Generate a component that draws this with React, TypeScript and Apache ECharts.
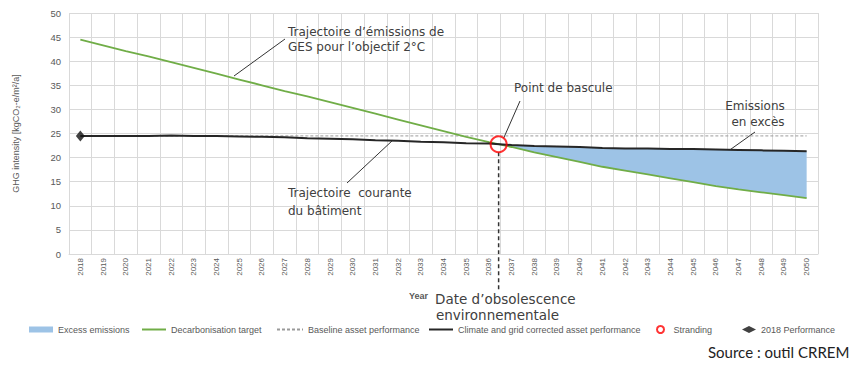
import { useEffect, useRef } from 'react';
import * as echarts from 'echarts';

const years = ['2018', '2019', '2020', '2021', '2022', '2023', '2024', '2025', '2026', '2027', '2028', '2029', '2030', '2031', '2032', '2033', '2034', '2035', '2036', '2037', '2038', '2039', '2040', '2041', '2042', '2043', '2044', '2045', '2046', '2047', '2048', '2049', '2050'];

const decarbonisationTarget = [44.5, 43.3, 42.1, 41.0, 39.8, 38.6, 37.4, 36.2, 35.0, 33.8, 32.7, 31.5, 30.3, 29.1, 27.9, 26.7, 25.5, 24.3, 23.2, 22.2, 21.1, 20.1, 19.1, 18.1, 17.3, 16.5, 15.7, 14.9, 14.1, 13.4, 12.8, 12.2, 11.6];

const correctedPerformance = [24.5, 24.5, 24.5, 24.5, 24.6, 24.5, 24.5, 24.4, 24.3, 24.2, 24.0, 23.9, 23.8, 23.6, 23.5, 23.3, 23.2, 23.0, 22.9, 22.6, 22.4, 22.3, 22.2, 22.0, 21.9, 21.9, 21.8, 21.8, 21.7, 21.6, 21.5, 21.4, 21.3];

const baselinePerformance = [24.5, 24.5, 24.5, 24.5, 24.5, 24.5, 24.5, 24.5, 24.5, 24.5, 24.5, 24.5, 24.5, 24.5, 24.5, 24.5, 24.5, 24.5, 24.5, 24.5, 24.5, 24.5, 24.5, 24.5, 24.5, 24.5, 24.5, 24.5, 24.5, 24.5, 24.5, 24.5, 24.5];

const performance2018 = [24.5];

const GREEN = '#70AD47';
const BLACK = '#262626';
const BLUE = '#9DC3E6';
const GREY_TXT = '#595959';
const ANN = '#404040';
const ANN_FONT = 'DejaVu Sans';

export default function App() {
  const ref = useRef<HTMLDivElement>(null);

  useEffect(() => {
    const chart = echarts.init(ref.current!, null, { renderer: 'svg' });

    // crossing point of target and corrected performance
    let k = 0;
    for (let i = 0; i < years.length - 1; i++) {
      if (decarbonisationTarget[i] >= correctedPerformance[i] && decarbonisationTarget[i + 1] < correctedPerformance[i + 1]) {
        k = i;
        break;
      }
    }
    const d0 = decarbonisationTarget[k] - correctedPerformance[k];
    const d1 = decarbonisationTarget[k + 1] - correctedPerformance[k + 1];
    const t = d0 / (d0 - d1);
    const xc = k + t + 0.5;
    const yc = decarbonisationTarget[k] + (decarbonisationTarget[k + 1] - decarbonisationTarget[k]) * t;

    const fillTop: number[][] = [[xc, yc]];
    const fillBottom: number[][] = [[xc, yc]];
    for (let i = k + 1; i < years.length; i++) {
      fillTop.push([i + 0.5, correctedPerformance[i]]);
      fillBottom.push([i + 0.5, decarbonisationTarget[i]]);
    }
    const pts = (arr: number[]) => arr.map((v, i) => [i + 0.5, v]);

    const legendText = { color: GREY_TXT, fontSize: 9, fontFamily: 'Liberation Sans' };
    const mkLegend = (name: string, left: number, w: number, h: number, extra: any = {}) => ({
      data: [{ name, ...extra }],
      left,
      top: 325,
      padding: 0,
      itemWidth: w,
      itemHeight: h,
      itemGap: 0,
      selectedMode: false,
      textStyle: legendText,
    });
    const noSym = { itemStyle: { opacity: 0 } };

    chart.setOption({
      animation: false,
      backgroundColor: '#ffffff',
      grid: { left: 69, top: 13, width: 749, height: 241, containLabel: false },
      legend: [
        mkLegend('Excess emissions', 29, 24, 6, { icon: 'rect', itemStyle: { color: BLUE } }),
        mkLegend('Decarbonisation target', 141, 24, 8, noSym),
        mkLegend('Baseline asset performance', 276, 26, 8, noSym),
        mkLegend('Climate and grid corrected asset performance', 428, 24, 8, noSym),
        mkLegend('Stranding', 656, 16, 7, { icon: 'circle', itemStyle: { color: '#ffffff', borderColor: '#FF0000', borderWidth: 2 } }),
        mkLegend('2018 Performance', 742, 14, 7, { icon: 'diamond', itemStyle: { color: '#111111' } }),
      ],
      xAxis: [
        {
          type: 'category',
          data: years,
          boundaryGap: true,
          axisLine: { show: true, lineStyle: { color: '#D9D9D9' } },
          axisTick: { show: false },
          axisLabel: { rotate: 90, fontSize: 8, color: GREY_TXT, margin: 4, fontFamily: 'Liberation Sans' },
          splitLine: { show: true, lineStyle: { color: '#D9D9D9', width: 1 } },
        },
        { type: 'value', min: 0, max: years.length, show: false },
      ],
      yAxis: {
        type: 'value',
        min: 0,
        max: 50,
        interval: 5,
        name: 'GHG intensity [kgCO₂-e/m²/a]',
        nameLocation: 'middle',
        nameRotate: 90,
        nameGap: 49,
        nameTextStyle: { color: GREY_TXT, fontSize: 9, fontFamily: 'Liberation Sans' },
        axisLine: { show: false },
        axisTick: { show: false },
        axisLabel: { fontSize: 9.5, color: GREY_TXT, margin: 8, fontFamily: 'Liberation Sans' },
        splitLine: { lineStyle: { color: '#D9D9D9', width: 1 } },
      },
      series: [
        {
          type: 'custom',
          name: 'Excess emissions',
          xAxisIndex: 1,
          data: [[xc, yc]],
          silent: true,
          z: 1,
          itemStyle: { color: BLUE },
          renderItem: (_params: any, api: any) => {
            const top = fillTop.map((q) => api.coord(q));
            const bottom = fillBottom.map((q) => api.coord(q)).reverse();
            return {
              type: 'polygon',
              shape: { points: [...top, ...bottom] },
              style: { fill: BLUE, stroke: 'none' },
            };
          },
        },
        {
          type: 'line',
          name: 'Baseline asset performance',
          xAxisIndex: 1,
          data: pts(baselinePerformance),
          symbol: 'none',
          lineStyle: { color: '#9a9a9a', width: 1, type: [3, 2] },
          itemStyle: { color: '#9a9a9a' },
          z: 2,
        },
        {
          type: 'line',
          name: 'Decarbonisation target',
          xAxisIndex: 1,
          data: pts(decarbonisationTarget),
          symbol: 'none',
          lineStyle: { color: GREEN, width: 1.8 },
          itemStyle: { color: GREEN },
          z: 3,
        },
        {
          type: 'line',
          name: 'Climate and grid corrected asset performance',
          xAxisIndex: 1,
          data: pts(correctedPerformance),
          symbol: 'none',
          lineStyle: { color: BLACK, width: 2 },
          itemStyle: { color: BLACK },
          z: 4,
        },
        {
          type: 'scatter',
          name: '2018 Performance',
          xAxisIndex: 1,
          data: pts(performance2018),
          symbol: 'diamond',
          symbolSize: [9, 11],
          itemStyle: { color: '#111111' },
          z: 5,
        },
        {
          type: 'scatter',
          name: 'Stranding',
          xAxisIndex: 1,
          data: [[xc, yc]],
          symbol: 'circle',
          symbolSize: 16,
          itemStyle: { color: 'rgba(255,255,255,0)', borderColor: '#FF0000', borderWidth: 2 },
          z: 6,
        },
      ],
    });

    const p = chart.convertToPixel({ seriesIndex: 5 }, [xc, yc]) as number[];

    const txt = (text: string, x: number, y: number, size: number, extra: any = {}) => ({
      type: 'text',
      x,
      y,
      silent: true,
      style: {
        text,
        fill: ANN,
        fontSize: size,
        fontFamily: ANN_FONT,
        textVerticalAlign: 'middle',
        ...extra,
      },
    });
    const ln = (x1: number, y1: number, x2: number, y2: number) => ({
      type: 'line',
      silent: true,
      shape: { x1, y1, x2, y2 },
      style: { stroke: '#333333', lineWidth: 1 },
    });

    chart.setOption({
      graphic: [
        {
          type: 'line',
          silent: true,
          shape: { x1: p[0], y1: p[1] + 8, x2: p[0], y2: 290 },
          style: { stroke: '#333333', lineWidth: 1.5, lineDash: [4, 3] },
        },
        ln(234, 76, 285, 39),
        ln(p[0] + 5, p[1] - 6, 520, 101),
        ln(703, 169, 755, 132),
        ln(347, 183, 393, 140),
        txt('Trajectoire d’émissions de', 288, 31.5, 12),
        txt('GES pour l’objectif 2°C', 288, 47, 12),
        txt('Point de bascule', 514, 88, 12),
        txt('Emissions', 755, 106, 12, { textAlign: 'center' }),
        txt('en excès', 758, 122, 12, { textAlign: 'center' }),
        txt('Trajectoire  courante', 288, 193, 12),
        txt('du bâtiment', 288, 211, 12),
        txt('Date d’obsolescence', 435, 299, 13.5),
        txt('environnementale', 436, 315, 13.5),
        txt('Source : outil CRREM', 708, 352, 15, { fill: '#222222', fontFamily: 'Lato' }),
        {
          type: 'text',
          x: 409,
          y: 296,
          silent: true,
          style: { text: 'Year', fill: GREY_TXT, fontSize: 9, fontWeight: 'bold', fontFamily: 'Liberation Sans', textVerticalAlign: 'middle' },
        },
      ],
    });

    return () => chart.dispose();
  }, []);

  return <div ref={ref} style={{ position: 'fixed', left: 0, top: 0, width: 858, height: 365 }} />;
}
